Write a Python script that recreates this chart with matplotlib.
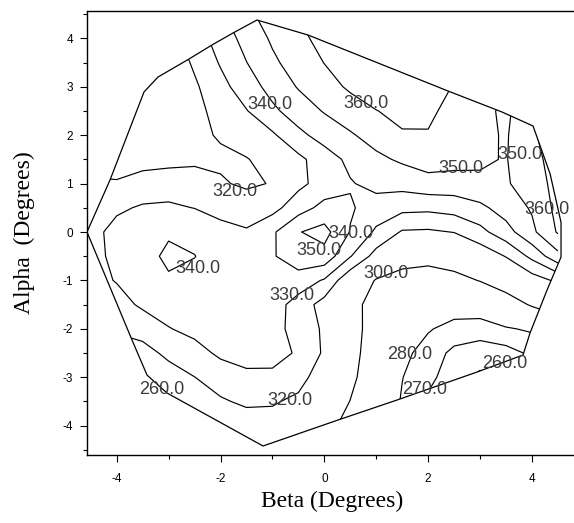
import numpy as np
import matplotlib
matplotlib.use('Agg')
import matplotlib.pyplot as plt
from matplotlib.patches import Polygon

plt.rcParams['font.family'] = 'Liberation Sans'
plt.rcParams['axes.unicode_minus'] = False

# measured field on the beta/alpha grid (rows run from alpha=4.5 down to -4.5)
beta = [-4.5, -4.0, -3.5, -3.0, -2.5, -2.0, -1.5, -1.0, -0.5, 0.0,
        0.5, 1.0, 1.5, 2.0, 2.5, 3.0, 3.5, 4.0, 4.5]
alpha = [4.5, 4.0, 3.5, 3.0, 2.5, 2.0, 1.5, 1.0, 0.5, 0.0,
         -0.5, -1.0, -1.5, -2.0, -2.5, -3.0, -3.5, -4.0, -4.5]
field = [
    [307, 308, 311, 319.5, 327.9, 338.4, 347.5, 355, 360.3, 364, 367, 368, 368, 368, 367, 365, 362, 361, 361],
    [308, 309, 311, 316.5, 325, 334.3, 343.5, 351.4, 357.3, 363.5, 366, 367, 367, 367, 366, 364, 360.5, 359, 360.5],
    [308, 309, 311, 313, 321.5, 330.9, 339.8, 348.2, 354.5, 360.2, 363, 365, 366, 366, 365, 361, 355, 356, 360],
    [309, 310, 311.5, 315, 318.5, 326.8, 335.3, 343.4, 350.7, 356.2, 361.5, 364, 365, 364, 359.5, 355, 351, 356, 361],
    [312, 314, 315, 316.5, 318.5, 321.8, 329.5, 338, 344.8, 350.7, 355.4, 359.8, 362, 361.5, 357.5, 353, 348, 358, 363],
    [313, 314.5, 315.5, 316.5, 318, 320.8, 324.7, 328.5, 337.6, 343.8, 348.9, 354, 359.3, 359.5, 357, 352.5, 349, 359, 364],
    [314, 315, 316, 317, 318, 318.5, 319.5, 323.7, 327.6, 335.4, 342.3, 347.8, 351.5, 354.5, 353.5, 351.2, 349.5, 357, 364],
    [322, 321, 324.5, 325.4, 324.9, 321, 318.5, 320.5, 327.5, 334.1, 339.3, 342.8, 343.5, 346.3, 345.9, 348.5, 349, 354.8, 363.5],
    [326, 328.5, 331, 331.5, 329.8, 326, 325, 326.7, 335.8, 343, 341, 335.9, 332.8, 332.3, 334, 337.6, 344.6, 351, 363],
    [327, 333, 336, 338.5, 337.5, 334, 331, 338.5, 349.5, 353.5, 339.5, 328.2, 319, 318.5, 320.3, 327, 336, 347.8, 361],
    [328, 331.5, 335.5, 342.5, 340.2, 336, 336, 339, 346, 346.5, 330.6, 316, 304.5, 304, 306.7, 312.8, 320.5, 332.6, 347],
    [327, 330.5, 335, 338.5, 337.5, 336, 335.5, 337, 335.5, 329, 311.7, 299, 296, 294, 296, 300.5, 307.4, 315, 322],
    [322, 326.5, 331.5, 335, 336, 336.5, 336, 334.5, 325.9, 316, 303.5, 296, 293.5, 287.7, 285.9, 287.2, 292.7, 301.5, 308],
    [318, 322, 324.4, 329.5, 333, 335, 335, 333.5, 326.3, 318.5, 304, 295.5, 288.3, 281, 276.2, 274.7, 279, 281.5, 290],
    [310, 312, 316, 322.5, 326, 332, 333.5, 332.5, 329.2, 318.5, 304.5, 293, 283, 275.5, 267.5, 265, 266, 272, 280],
    [301, 302, 306, 315, 319.9, 324, 328, 328.5, 323.5, 314.6, 303.4, 290.5, 280.3, 273, 264, 258, 262, 268, 275],
    [301, 302, 303, 310, 314, 319, 321.5, 321, 318, 310.5, 299.7, 290, 279, 268, 262, 258, 262, 268, 274],
    [302, 303, 305, 308, 311, 312, 315.5, 316, 312, 304, 296, 288, 278, 268, 262, 258, 262, 268, 274],
    [302, 303, 305, 307, 309, 310, 312, 313, 310, 302, 294, 286, 277, 268, 262, 258, 262, 268, 274],
]

# outline of the measured region
hull_beta = [-4.572, -4.129, -3.474, -3.204, -2.607, -2.164, -1.759, -1.297, -0.314,
             2.383, 3.424, 4.021, 4.35, 4.56, 4.56, 4.291, 3.963, 3.828, 2.942,
             1.401, 0.264, -1.181, -3.031, -3.416, -3.705]
hull_alpha = [0.0, 1.074, 2.893, 3.202, 3.574, 3.864, 4.112, 4.380, 4.070,
              2.913, 2.479, 2.190, 1.2, 0.2, -0.517, -1.198, -2.087, -2.541, -2.893,
              -3.471, -3.884, -4.421, -3.326, -2.955, -2.231]

levels = [260, 270, 280, 300, 320, 330, 340, 350, 360]

# contour labels
label_vals = [340, 360, 320, 350, 350, 360, 340, 350, 340, 300, 330, 280, 260, 270, 260, 320]
label_beta = [-1.046, 0.803, -1.721, 2.635, 3.771, 4.291, 0.514, -0.102, -2.434,
              1.189, -0.622, 1.651, 3.482, 1.940, -3.127, -0.661]
label_alpha = [2.624, 2.665, 0.847, 1.322, 1.591, 0.475, -0.021, -0.372, -0.744,
               -0.847, -1.302, -2.541, -2.707, -3.264, -3.264, -3.471]

B = np.array(beta)
A = np.array(alpha)[::-1]
Z = np.array(field)[::-1]

fig = plt.figure(figsize=(5.74, 5.23), dpi=100)
ax = fig.add_axes([87/574, 1-455/523, (574-87)/574, (455-11)/523])

hull = Polygon(np.column_stack([hull_beta, hull_alpha]), closed=True, fill=False,
               edgecolor='black', linewidth=0.9, zorder=3)
ax.add_patch(hull)
cs = ax.contour(B, A, Z, levels=levels, colors='black', linewidths=0.85)
cs.set_clip_path(hull)

for v, x, y in zip(label_vals, label_beta, label_alpha):
    ax.text(x, y, '%.1f' % v, ha='center', va='center', fontsize=13,
            color='#3c3c3c', family='Liberation Sans', zorder=4)

ax.set_xlim(-4.572, 4.81)
ax.set_ylim(-4.607, 4.566)
ax.set_xticks([-4, -2, 0, 2, 4])
ax.set_xticks([-3, -1, 1, 3], minor=True)
ax.set_yticks([-4, -3, -2, -1, 0, 1, 2, 3, 4])
ax.set_yticks([-4.5, -3.5, -2.5, -1.5, -0.5, 0.5, 1.5, 2.5, 3.5, 4.5], minor=True)
ax.tick_params(which='major', direction='out', length=5, width=0.8, labelsize=8.5)
ax.tick_params(axis='x', which='major', pad=8)
ax.tick_params(axis='y', which='major', pad=5)
ax.tick_params(which='minor', direction='out', length=3, width=0.8)
ax.spines['right'].set_visible(False)
for s in ['left', 'top', 'bottom']:
    ax.spines[s].set_linewidth(1.0)

ax.set_xlabel('Beta (Degrees)', family='Liberation Serif', fontsize=17, va='center')
ax.xaxis.set_label_coords((332-87)/487, (455-501)/444)
ax.set_ylabel('Alpha  (Degrees)', family='Liberation Serif', fontsize=17, va='center')
ax.yaxis.set_label_coords((24-87)/487, (455-233)/444)

fig.savefig('out.png', dpi=100)
